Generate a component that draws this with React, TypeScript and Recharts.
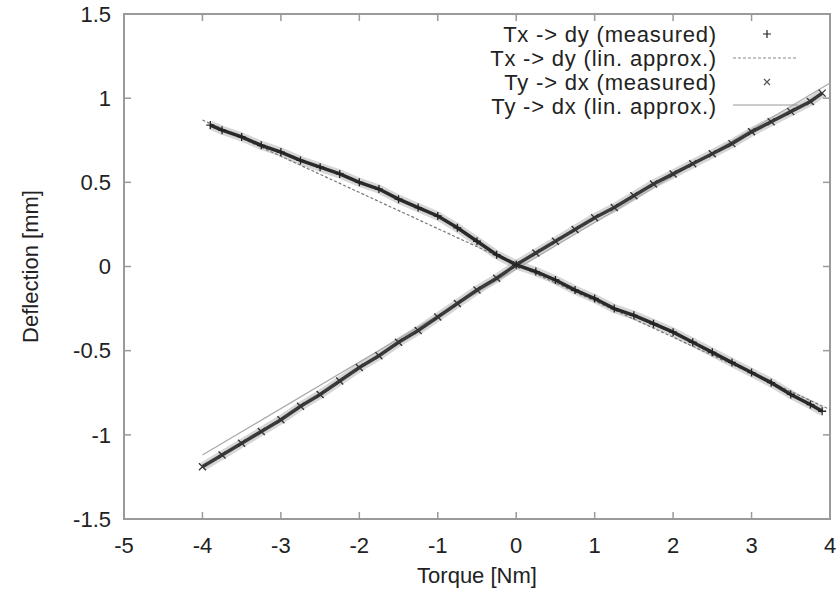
import { LineChart, Line, XAxis, YAxis, ReferenceArea } from 'recharts';

// Tx -> dy, measured points
const txTorque = [
  -3.9, -3.75, -3.5, -3.25, -3.0, -2.75, -2.5, -2.25, -2.0, -1.75, -1.5, -1.25, -1.0, -0.75, -0.5,
  -0.25, 0, 0.25, 0.5, 0.75, 1.0, 1.25, 1.5, 1.75, 2.0, 2.25, 2.5, 2.75, 3.0, 3.25, 3.5, 3.75, 3.9,
];
const dyMeasured = [
  0.84, 0.81, 0.77, 0.72, 0.68, 0.63, 0.59, 0.55, 0.5, 0.46, 0.4, 0.35, 0.3, 0.23, 0.15,
  0.07, 0.01, -0.03, -0.08, -0.14, -0.19, -0.25, -0.29, -0.34, -0.39, -0.45, -0.51, -0.57, -0.63, -0.69, -0.76, -0.82, -0.86,
];

// Ty -> dx, measured
const tyTorque = [
  -4.0, -3.75, -3.5, -3.25, -3.0, -2.75, -2.5, -2.25, -2.0, -1.75, -1.5, -1.25, -1.0, -0.75, -0.5,
  -0.25, 0, 0.25, 0.5, 0.75, 1.0, 1.25, 1.5, 1.75, 2.0, 2.25, 2.5, 2.75, 3.0, 3.25, 3.5, 3.75, 3.9,
];
const dxMeasured = [
  -1.19, -1.12, -1.05, -0.98, -0.91, -0.83, -0.76, -0.68, -0.6, -0.53, -0.45, -0.38, -0.3, -0.22, -0.14,
  -0.07, 0.01, 0.08, 0.15, 0.22, 0.29, 0.35, 0.42, 0.49, 0.55, 0.61, 0.67, 0.73, 0.8, 0.86, 0.92, 0.98, 1.03,
];

// linear approximations (end points)
const linTorque = [-4, 4];
const dyLinear = [0.87, -0.85];
const dxLinear = [-1.12, 1.09];

const xTicks = [-5, -4, -3, -2, -1, 0, 1, 2, 3, 4];
const yTicks = [-1.5, -1, -0.5, 0, 0.5, 1, 1.5];

const zip = (xs: number[], ys: number[]) => xs.map((x, i) => ({ x, y: ys[i] }));

const txMeas = zip(txTorque, dyMeasured);
const tyMeas = zip(tyTorque, dxMeasured);
const txLin = zip(linTorque, dyLinear);
const tyLin = zip(linTorque, dxLinear);

const FRAME = '#9a9a9a';
const FONT = '"Liberation Sans", Arial, sans-serif';

// plot box edges (follow from the chart margins / axis sizes below)
const W = 838;
const H = 592;
const M_TOP = 14;
const M_RIGHT = 8;
const X_AXIS_H = 73;
const Y_AXIS_W = 124;
const TOP = M_TOP;
const BOTTOM = H - X_AXIS_H;
const LEFT = Y_AXIS_W;
const RIGHT = W - M_RIGHT;
const TICK = 7;

// gnuplot style: tick marks point inward, mirrored on the opposite side
const XTick = (props: any) => {
  const { x, y, payload } = props;
  return (
    <g>
      <line x1={x} x2={x} y1={BOTTOM} y2={BOTTOM - TICK} stroke={FRAME} strokeWidth={1.5} />
      <line x1={x} x2={x} y1={TOP} y2={TOP + TICK} stroke={FRAME} strokeWidth={1.5} />
      <text x={x} y={y} dy="0.71em" textAnchor="middle" fontSize={22} fill="#222" fontFamily={FONT}>
        {payload.value}
      </text>
    </g>
  );
};

const YTick = (props: any) => {
  const { x, y, payload } = props;
  return (
    <g>
      <line x1={LEFT} x2={LEFT + TICK} y1={y} y2={y} stroke={FRAME} strokeWidth={1.5} />
      <line x1={RIGHT} x2={RIGHT - TICK} y1={y} y2={y} stroke={FRAME} strokeWidth={1.5} />
      <text x={x} y={y} dy="0.355em" textAnchor="end" fontSize={22} fill="#222" fontFamily={FONT}>
        {payload.value}
      </text>
    </g>
  );
};

const plusDot = (props: any) => {
  const { cx, cy, index } = props;
  const s = 4;
  return (
    <path
      key={`p${index}`}
      d={`M${cx - s},${cy}H${cx + s}M${cx},${cy - s}V${cy + s}`}
      stroke="#222"
      strokeWidth={1.3}
      fill="none"
    />
  );
};

const crossDot = (props: any) => {
  const { cx, cy, index } = props;
  const s = 3.5;
  return (
    <path
      key={`c${index}`}
      d={`M${cx - s},${cy - s}L${cx + s},${cy + s}M${cx - s},${cy + s}L${cx + s},${cy - s}`}
      stroke="#333"
      strokeWidth={1.3}
      fill="none"
    />
  );
};

function Legend() {
  const rows = [
    { label: 'Tx -> dy (measured)', y: 42 },
    { label: 'Tx -> dy (lin. approx.)', y: 66 },
    { label: 'Ty -> dx (measured)', y: 90 },
    { label: 'Ty -> dx (lin. approx.)', y: 114 },
  ];
  return (
    <svg width={W} height={140} style={{ position: 'absolute', left: 0, top: 0, pointerEvents: 'none' }}>
      {rows.map((r) => (
        <text key={r.label} x={717} y={r.y} textAnchor="end" fontSize={22} letterSpacing={0.8} fill="#222" fontFamily={FONT}>
          {r.label}
        </text>
      ))}
      <path d="M763,34H771M767,30V38" stroke="#222" strokeWidth={1.2} />
      <line x1={733} x2={798} y1={58} y2={58} stroke="#888" strokeWidth={1.2} strokeDasharray="3 2" />
      <path d="M764,79L770,85M764,85L770,79" stroke="#555" strokeWidth={1.2} />
      <line x1={733} x2={798} y1={105} y2={105} stroke="#999" strokeWidth={1.2} />
    </svg>
  );
}

export default function App() {
  return (
    <div style={{ position: 'absolute', left: 0, top: 0, width: W, height: H, background: '#fff', fontFamily: FONT }}>
      <LineChart width={W} height={H} margin={{ top: M_TOP, right: M_RIGHT, bottom: 0, left: 0 }}>
        <XAxis
          type="number"
          dataKey="x"
          domain={[-5, 4]}
          ticks={xTicks}
          allowDataOverflow
          height={X_AXIS_H}
          tickLine={false}
          tickSize={0}
          tickMargin={18}
          axisLine={false}
          tick={<XTick />}
          label={{ value: 'Torque [Nm]', position: 'insideBottom', offset: 9, fontSize: 22, fill: '#222', fontFamily: FONT }}
        />
        <YAxis
          type="number"
          domain={[-1.5, 1.5]}
          ticks={yTicks}
          allowDataOverflow
          width={Y_AXIS_W}
          tickLine={false}
          tickSize={0}
          tickMargin={13}
          axisLine={false}
          tick={<YTick />}
          label={{
            value: 'Deflection [mm]',
            angle: -90,
            position: 'insideLeft',
            offset: 30,
            fontSize: 22,
            fill: '#222',
            fontFamily: FONT,
            style: { textAnchor: 'middle' },
          }}
        />

        {/* plot frame */}
        <ReferenceArea x1={-5} x2={4} y1={-1.5} y2={1.5} fill="none" stroke={FRAME} strokeWidth={2} ifOverflow="visible" />

        {/* soft halo around the dense measured point clouds */}
        <Line data={tyMeas} dataKey="y" type="linear" stroke="#999" strokeOpacity={0.4} strokeWidth={9} dot={false} activeDot={false} isAnimationActive={false} />
        <Line data={txMeas} dataKey="y" type="linear" stroke="#999" strokeOpacity={0.4} strokeWidth={9} dot={false} activeDot={false} isAnimationActive={false} />

        <Line data={tyLin} dataKey="y" type="linear" stroke="#aaa" strokeWidth={1.2} dot={false} activeDot={false} isAnimationActive={false} />
        <Line data={txLin} dataKey="y" type="linear" stroke="#777" strokeWidth={1.2} strokeDasharray="3 2" dot={false} activeDot={false} isAnimationActive={false} />

        <Line data={tyMeas} dataKey="y" type="linear" stroke="#3a3a3a" strokeWidth={3.5} dot={crossDot} activeDot={false} isAnimationActive={false} />
        <Line data={txMeas} dataKey="y" type="linear" stroke="#2a2a2a" strokeWidth={3.5} dot={plusDot} activeDot={false} isAnimationActive={false} />
      </LineChart>
      <Legend />
    </div>
  );
}
